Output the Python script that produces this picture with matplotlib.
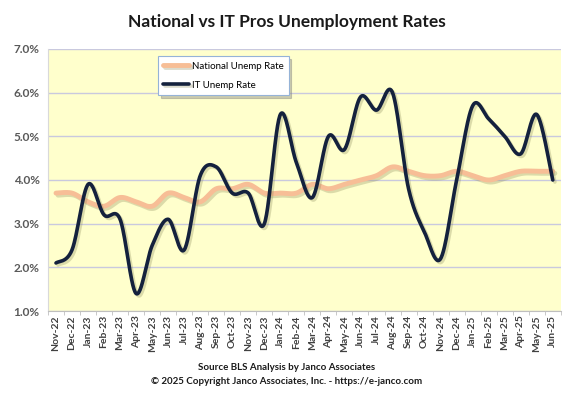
import matplotlib
matplotlib.use('Agg')
import matplotlib.pyplot as plt
import matplotlib.patheffects as pe
import matplotlib.ticker as mtick
import numpy as np

months = ['Nov-22', 'Dec-22', 'Jan-23', 'Feb-23', 'Mar-23', 'Apr-23', 'May-23', 'Jun-23',
          'Jul-23', 'Aug-23', 'Sep-23', 'Oct-23', 'Nov-23', 'Dec-23', 'Jan-24', 'Feb-24',
          'Mar-24', 'Apr-24', 'May-24', 'Jun-24', 'Jul-24', 'Aug-24', 'Sep-24', 'Oct-24',
          'Nov-24', 'Dec-24', 'Jan-25', 'Feb-25', 'Mar-25', 'Apr-25', 'May-25', 'Jun-25']
national = [3.7, 3.7, 3.5, 3.4, 3.6, 3.5, 3.4, 3.7, 3.6, 3.5, 3.8, 3.8, 3.9, 3.7, 3.7, 3.7,
            3.9, 3.8, 3.9, 4.0, 4.1, 4.3, 4.2, 4.1, 4.1, 4.2, 4.1, 4.0, 4.1, 4.2, 4.2, 4.2]
it_pros = [2.1, 2.4, 3.9, 3.2, 3.1, 1.4, 2.5, 3.1, 2.4, 4.1, 4.3, 3.7, 3.7, 3.0, 5.5, 4.4,
           3.6, 5.0, 4.7, 5.9, 5.6, 6.0, 3.8, 2.8, 2.2, 4.0, 5.7, 5.4, 5.0, 4.6, 5.5, 4.0]


def smooth(y, n=30):
    # Excel style smoothed line: cubic bezier with catmull-rom control points
    y = np.asarray(y, dtype=float) / 100
    x = np.arange(len(y), dtype=float)
    pts = np.column_stack([x, y])
    pad = np.vstack([pts[0], pts, pts[-1]])
    out = [pts[:1]]
    t = np.linspace(0, 1, n)[1:, None]
    for i in range(len(pts) - 1):
        p0, p3 = pad[i + 1], pad[i + 2]
        p1 = p0 + (pad[i + 2] - pad[i]) / 6
        p2 = p3 - (pad[i + 3] - pad[i + 1]) / 6
        seg = ((1 - t) ** 3) * p0 + 3 * ((1 - t) ** 2) * t * p1 + 3 * (1 - t) * t ** 2 * p2 + t ** 3 * p3
        out.append(seg)
    out = np.vstack(out)
    return out[:, 0], out[:, 1]


plt.rcParams['font.family'] = ['Lato', 'DejaVu Sans']

fig = plt.figure(figsize=(5.74, 3.97), dpi=100)
ax = fig.add_axes([0.0836, 0.2166, 0.8934, 0.66])
ax.set_facecolor('#FFFFCC')

shadow = [pe.SimpleLineShadow(offset=(1.5, -1.5), shadow_color='#8a8a5a', alpha=0.3), pe.Normal()]

xs, ys = smooth(national)
ax.plot(xs, ys, color='#F7BE96', lw=3.5, solid_capstyle='round', path_effects=shadow,
        label='National Unemp Rate', zorder=3)
xs, ys = smooth(it_pros)
ax.plot(xs, ys, color='#14213D', lw=2.6, solid_capstyle='round', path_effects=shadow,
        label='IT Unemp Rate', zorder=4)

ax.set_xlim(-0.5, len(months) - 0.5)
ax.set_ylim(0.01, 0.07)
ax.yaxis.set_major_locator(mtick.MultipleLocator(0.01))
ax.yaxis.set_major_formatter(mtick.PercentFormatter(xmax=1, decimals=1))
ax.grid(axis='y', color='#C9C9DE', lw=1)
ax.set_axisbelow(True)

ax.set_xticks(range(len(months)))
ax.set_xticklabels(months, rotation=90, fontsize=7.5, fontweight='bold', color='#404040')
ax.set_xticks(np.arange(-0.5, len(months), 1), minor=True)
ax.tick_params(axis='x', which='major', length=0, pad=3)
ax.tick_params(axis='x', which='minor', length=3, color='#BFBFBF')
ax.tick_params(axis='y', length=0, labelsize=8.5, labelcolor='#595959', pad=6)
for lab in ax.get_yticklabels():
    lab.set_fontweight('bold')

for s in ['top', 'right']:
    ax.spines[s].set_visible(False)
ax.spines['left'].set_color('#D9D9D9')
ax.spines['bottom'].set_color('#BFBFBF')

leg = ax.legend(loc='upper left', bbox_to_anchor=(0.205, 0.99), fontsize=7, frameon=True,
                fancybox=False, shadow={'color': '#7f7f7f', 'alpha': 0.4}, handlelength=2.6,
                handletextpad=0.3, labelspacing=1.0, borderpad=0.55)
leg.get_frame().set_edgecolor('#95B3D7')
leg.get_frame().set_linewidth(0.8)

fig.text(0.5, 0.945, 'National vs IT Pros Unemployment Rates', ha='center', va='center',
         fontsize=12.5, fontweight='bold', color='#1A1A1A')
fig.text(0.5, 0.075, 'Source BLS Analysis by Janco Associates', ha='center', va='center',
         fontsize=7, fontweight='bold', color='#1A1A1A')
fig.text(0.5, 0.04, '\u00a9 2025 Copyright Janco Associates, Inc. - https://e-janco.com',
         ha='center', va='center', fontsize=7, fontweight='bold', color='#1A1A1A')

fig.savefig('out.png', dpi=100)
